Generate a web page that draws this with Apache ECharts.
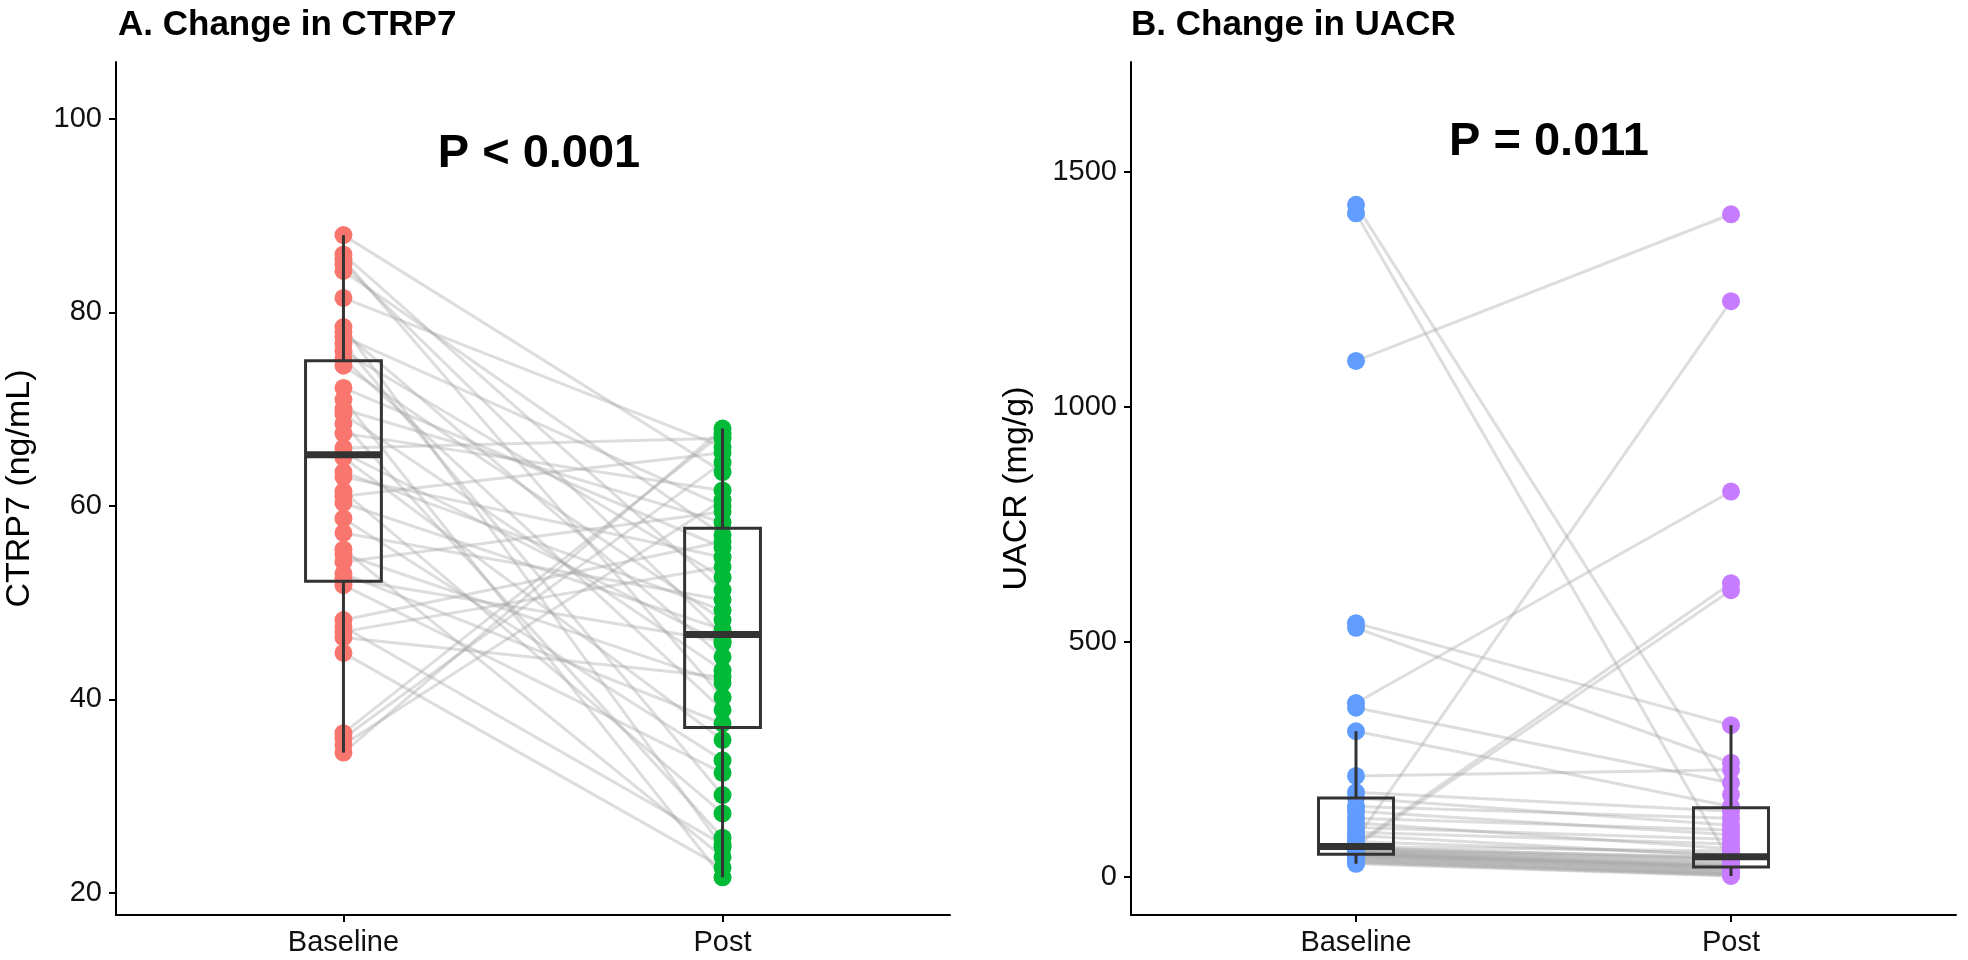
<!DOCTYPE html>
<html>
<head>
<meta charset="utf-8">
<title>Change in CTRP7 and UACR</title>
<style>
  html, body { margin: 0; padding: 0; background: #fff; }
  #main { width: 1968px; height: 960px; }
</style>
</head>
<body>
<div id="main"></div>
<script src="https://cdn.jsdelivr.net/npm/echarts@6/dist/echarts.min.js"></script>
<script>
// groups on the x axis (1 = Baseline, 2 = Post)
var groups = ['Baseline', 'Post'];

// A. CTRP7 (ng/mL), one entry per subject, same order in both arrays
var ctrpBaseline = [88.0, 86.0, 85.5, 85.0, 84.3, 81.5, 78.5, 78.0, 77.5, 76.8, 76.0,
  75.2, 74.5, 72.2, 71.0, 70.0, 69.5, 68.5, 67.5, 66.0, 65.5, 65.0, 63.5, 63.0, 61.5,
  61.0, 60.3, 58.7, 57.2, 55.5, 55.0, 54.2, 53.0, 52.5, 51.8, 48.2, 47.5, 47.0, 46.4,
  44.8, 36.5, 36.0, 35.3, 34.5];
var ctrpPost = [63.5, 51.3, 40.2, 46.7, 57.0, 66.1, 24.7, 44.4, 60.0, 30.1, 52.6,
  38.9, 48.2, 55.7, 21.6, 58.3, 43.0, 25.7, 61.6, 67.0, 45.8, 35.8, 49.2, 54.7, 28.2,
  65.5, 47.2, 33.7, 50.3, 23.7, 41.7, 59.4, 37.5, 46.0, 32.4, 56.3, 25.0, 53.7, 42.3,
  22.6, 67.5, 64.5, 60.6, 68.0];
// box stats: [lower whisker, Q1, median, Q3, upper whisker]
var ctrpBoxBaseline = [34.5, 52.2, 65.3, 75.0, 88.0];
var ctrpBoxPost = [21.6, 37.1, 46.7, 57.7, 68.0];
var ctrpTicks = [20, 40, 60, 80, 100];

// B. UACR (mg/g)
var uacrBaseline = [1430, 1412, 1098, 540, 530, 370, 360, 310, 215, 180, 168, 150,
  140, 125, 115, 105, 95, 88, 80, 75, 70, 66, 64, 62, 60, 58, 56, 55, 53, 52, 50, 49,
  48, 46, 45, 44, 42, 40, 38, 36, 34, 32, 30, 28];
var uacrPost = [175, 30, 1410, 323, 243, 820, 200, 150, 228, 140, 110, 125, 90, 100,
  60, 80, 70, 44, 1225, 48, 625, 610, 55, 40, 42, 38, 35, 32, 28, 26, 24, 22, 21, 20,
  18, 16, 14, 12, 10, 8, 6, 5, 3, 2];
var uacrBoxBaseline = [28, 48, 65, 168, 310];
var uacrBoxPost = [2, 21, 43, 147, 323];
var uacrTicks = [0, 500, 1000, 1500];

var FONT = '"Liberation Sans", Arial, Helvetica, sans-serif';
var BOX_W = 0.2;

function pairLines(before, after) {
  return before.map(function (b, i) {
    return { coords: [[1, b], [2, after[i]]] };
  });
}

function points(values, x) {
  return values.map(function (v) { return [x, v]; });
}

function renderBox(params, api) {
  var x = api.value(0);
  var lo = api.coord([x, api.value(1)]);
  var q1 = api.coord([x, api.value(2)]);
  var md = api.coord([x, api.value(3)]);
  var q3 = api.coord([x, api.value(4)]);
  var hi = api.coord([x, api.value(5)]);
  var half = api.size([BOX_W, 0])[0] / 2;
  var stroke = { stroke: '#333333', lineWidth: 3, fill: null };
  return {
    type: 'group',
    children: [
      { type: 'line', shape: { x1: lo[0], y1: lo[1], x2: q1[0], y2: q1[1] }, style: stroke },
      { type: 'line', shape: { x1: q3[0], y1: q3[1], x2: hi[0], y2: hi[1] }, style: stroke },
      { type: 'rect', shape: { x: q3[0] - half, y: q3[1], width: 2 * half, height: q1[1] - q3[1] },
        style: { stroke: '#333333', lineWidth: 3, fill: 'rgba(0,0,0,0)' } },
      { type: 'line', shape: { x1: md[0] - half, y1: md[1], x2: md[0] + half, y2: md[1] },
        style: { stroke: '#333333', lineWidth: 7 } }
    ]
  };
}

function xAxisFor(gridIndex) {
  return {
    type: 'value', gridIndex: gridIndex, min: 0.4, max: 2.6,
    axisLine: { show: true, onZero: false, lineStyle: { color: '#000', width: 2 } },
    axisTick: { show: true, customValues: [1, 2], length: 7, lineStyle: { color: '#000', width: 2 } },
    axisLabel: {
      customValues: [1, 2], margin: 13, fontSize: 29, color: '#111', fontFamily: FONT,
      formatter: function (v) { return groups[Math.round(v) - 1]; }
    },
    splitLine: { show: false }
  };
}

function yAxisFor(gridIndex, min, max, ticks, name, gap) {
  return {
    type: 'value', gridIndex: gridIndex, min: min, max: max,
    name: name, nameLocation: 'middle', nameGap: gap, nameRotate: 90,
    nameTextStyle: { fontSize: 34, color: '#000', fontFamily: FONT },
    axisLine: { show: true, onZero: false, lineStyle: { color: '#000', width: 2 } },
    axisTick: { show: true, customValues: ticks, length: 7, lineStyle: { color: '#000', width: 2 } },
    axisLabel: {
      customValues: ticks, margin: 14, fontSize: 29, color: '#111', fontFamily: FONT,
      formatter: function (v) { return String(v); }
    },
    splitLine: { show: false }
  };
}

var lineStyle = { color: 'rgb(160,160,160)', width: 3, opacity: 0.36 };

var myChart = echarts.init(document.getElementById('main'), null, { renderer: 'canvas' });

myChart.setOption({
  backgroundColor: '#fff',
  animation: false,
  grid: [
    { left: 116, top: 62, width: 834, height: 853 },
    { left: 1131, top: 62, width: 825, height: 853 }
  ],
  xAxis: [xAxisFor(0), xAxisFor(1)],
  yAxis: [
    yAxisFor(0, 17.7, 105.9, ctrpTicks, 'CTRP7 (ng/mL)', 79),
    yAxisFor(1, -81, 1734, uacrTicks, 'UACR (mg/g)', 97)
  ],
  graphic: [
    { type: 'text', x: 118, y: 25, style: { text: 'A. Change in CTRP7', font: 'bold 35px ' + FONT, fill: '#000', textAlign: 'left', textVerticalAlign: 'middle' } },
    { type: 'text', x: 1131, y: 25, style: { text: 'B. Change in UACR', font: 'bold 35px ' + FONT, fill: '#000', textAlign: 'left', textVerticalAlign: 'middle' } },
    { type: 'text', x: 539, y: 154, style: { text: 'P < 0.001', font: 'bold 47px ' + FONT, fill: '#000', textAlign: 'center', textVerticalAlign: 'middle' } },
    { type: 'text', x: 1549, y: 142, style: { text: 'P = 0.011', font: 'bold 47px ' + FONT, fill: '#000', textAlign: 'center', textVerticalAlign: 'middle' } }
  ],
  series: [
    // paired subject lines
    { type: 'lines', coordinateSystem: 'cartesian2d', xAxisIndex: 0, yAxisIndex: 0, z: 1,
      lineStyle: lineStyle, data: pairLines(ctrpBaseline, ctrpPost), silent: true },
    { type: 'lines', coordinateSystem: 'cartesian2d', xAxisIndex: 1, yAxisIndex: 1, z: 1,
      lineStyle: lineStyle, data: pairLines(uacrBaseline, uacrPost), silent: true },
    // points
    { type: 'scatter', xAxisIndex: 0, yAxisIndex: 0, z: 2, symbolSize: 18,
      itemStyle: { color: '#F8766D', opacity: 1 }, data: points(ctrpBaseline, 1) },
    { type: 'scatter', xAxisIndex: 0, yAxisIndex: 0, z: 2, symbolSize: 18,
      itemStyle: { color: '#00BA38', opacity: 1 }, data: points(ctrpPost, 2) },
    { type: 'scatter', xAxisIndex: 1, yAxisIndex: 1, z: 2, symbolSize: 18,
      itemStyle: { color: '#619CFF', opacity: 1 }, data: points(uacrBaseline, 1) },
    { type: 'scatter', xAxisIndex: 1, yAxisIndex: 1, z: 2, symbolSize: 18,
      itemStyle: { color: '#C77CFF', opacity: 1 }, data: points(uacrPost, 2) },
    // boxes
    { type: 'custom', xAxisIndex: 0, yAxisIndex: 0, z: 3, renderItem: renderBox,
      encode: { x: 0, y: [1, 2, 3, 4, 5] },
      data: [[1].concat(ctrpBoxBaseline), [2].concat(ctrpBoxPost)] },
    { type: 'custom', xAxisIndex: 1, yAxisIndex: 1, z: 3, renderItem: renderBox,
      encode: { x: 0, y: [1, 2, 3, 4, 5] },
      data: [[1].concat(uacrBoxBaseline), [2].concat(uacrBoxPost)] }
  ]
});
</script>
</body>
</html>
